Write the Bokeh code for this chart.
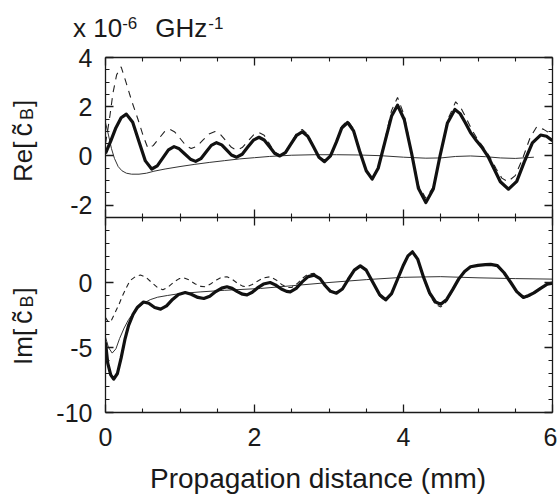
from bokeh.plotting import figure
from bokeh.models import LinearAxis, FixedTicker, Range1d, Div, CustomLabelingPolicy
from bokeh.layouts import column, row
from bokeh.embed import file_html
from bokeh.resources import INLINE

# ---------------- data ----------------
X_MAJOR = [0, 2, 4, 6]
X_TICK_LABELS = ["0", "2", "4", "6"]
X_MINOR = [0.5, 1, 1.5, 2.5, 3, 3.5, 4.5, 5, 5.5]
RE_MAJOR = [-2, 0, 2, 4]
RE_TICK_LABELS = ["-2", "0", "2", "4"]
RE_MINOR = [-2.5, -1.5, -1, -0.5, 0.5, 1, 1.5, 2.5, 3, 3.5]
IM_MAJOR = [-10, -5, 0]
IM_TICK_LABELS = ["-10", "-5", "0"]
IM_MINOR = [-9, -8, -7, -6, -4, -3, -2, -1, 1, 2, 3, 4]

RE_X_THICK = [0.00, 0.07, 0.14, 0.21, 0.28, 0.365, 0.45, 0.535, 0.62, 0.695, 0.77, 0.845, 0.92,
              0.99, 1.065, 1.14, 1.21, 1.28, 1.35, 1.42, 1.49, 1.56, 1.625, 1.69, 1.76, 1.835,
              1.91, 1.985, 2.06, 2.13, 2.20, 2.27, 2.34, 2.415, 2.49, 2.565, 2.64, 2.715, 2.79,
              2.865, 2.94, 3.02, 3.10, 3.17, 3.25, 3.33, 3.41, 3.50, 3.58, 3.66, 3.75, 3.84,
              3.92, 4.01, 4.11, 4.20, 4.30, 4.40, 4.49, 4.59, 4.69, 4.76, 4.83, 4.90, 4.98,
              5.06, 5.14, 5.22, 5.30, 5.41, 5.52, 5.62, 5.73, 5.84, 5.92, 6.00]
RE_Y_THICK = [0.10, 0.60, 1.15, 1.55, 1.70, 1.37, 0.58, -0.20, -0.53, -0.40, -0.08, 0.25, 0.38,
              0.29, 0.08, -0.13, -0.22, -0.11, 0.16, 0.43, 0.54, 0.45, 0.25, 0.04, -0.05, 0.07,
              0.36, 0.64, 0.76, 0.65, 0.38, 0.11, 0.00, 0.14, 0.49, 0.84, 0.98, 0.80, 0.38,
              -0.05, -0.23, 0.00, 0.57, 1.13, 1.36, 1.02, 0.21, -0.60, -0.94, -0.50, 0.56, 1.62,
              2.06, 1.48, 0.09, -1.31, -1.89, -1.34, 0.00, 1.34, 1.89, 1.72, 1.35, 0.95, 0.62,
              0.32, -0.05, -0.55, -1.05, -1.35, -1.03, -0.25, 0.53, 0.85, 0.80, 0.62]

RE_X_DASH = [0.00, 0.03, 0.06, 0.10, 0.15, 0.21, 0.28, 0.35, 0.44, 0.51, 0.57, 0.64, 0.715, 0.79,
             0.86, 0.93, 1.005, 1.08, 1.15, 1.23, 1.31, 1.39, 1.47, 1.54, 1.615, 1.69, 1.76,
             1.835, 1.91, 1.985, 2.06, 2.13, 2.20, 2.27, 2.34, 2.415, 2.49, 2.565, 2.64, 2.715,
             2.79, 2.865, 2.94, 3.02, 3.10, 3.17, 3.25, 3.33, 3.41, 3.50, 3.58, 3.66, 3.75,
             3.84, 3.92, 4.01, 4.11, 4.20, 4.30, 4.40, 4.49, 4.59, 4.70, 4.77, 4.84, 4.92,
             5.00, 5.08, 5.16, 5.24, 5.32, 5.40, 5.50, 5.60, 5.70, 5.79, 5.88, 5.95, 6.00]
RE_Y_DASH = [0.50, 1.05, 1.65, 2.55, 3.30, 3.62, 2.95, 2.25, 1.45, 0.78, 0.31, 0.42, 0.70, 0.98,
             1.09, 0.97, 0.70, 0.42, 0.30, 0.40, 0.65, 0.89, 0.99, 0.88, 0.62, 0.35, 0.24,
             0.34, 0.60, 0.85, 0.95, 0.84, 0.50, 0.15, 0.03, 0.17, 0.53, 0.92, 1.08, 0.88,
             0.42, -0.03, -0.20, 0.03, 0.62, 1.20, 1.45, 1.10, 0.25, -0.58, -0.93, -0.45, 0.64,
             1.85, 2.38, 1.65, 0.15, -1.20, -1.72, -1.25, 0.00, 1.45, 2.20, 1.95, 1.55, 1.05,
             0.65, 0.32, -0.05, -0.50, -0.90, -1.04, -0.80, -0.10, 0.75, 1.19, 1.08, 0.95, 0.92]

RE_X_THIN = [0.00, 0.04, 0.08, 0.12, 0.17, 0.22, 0.28, 0.35, 0.45, 0.55, 0.65, 0.80, 1.00, 1.20,
             1.40, 1.60, 1.80, 2.00, 2.20, 2.50, 2.80, 3.10, 3.40, 3.70, 4.00, 4.30, 4.50, 4.70,
             4.90, 5.10, 5.30, 5.50, 5.75]
RE_Y_THIN = [1.35, 0.85, 0.30, -0.10, -0.43, -0.60, -0.70, -0.74, -0.74, -0.70, -0.62, -0.53,
             -0.43, -0.34, -0.26, -0.19, -0.12, -0.07, -0.02, 0.03, 0.05, 0.05, 0.04, 0.01,
             -0.05, -0.09, -0.08, -0.02, 0.00, -0.03, -0.08, -0.10, -0.05]

IM_X_THICK = [0.00, 0.03, 0.07, 0.11, 0.16, 0.21, 0.26, 0.31, 0.37, 0.43, 0.51, 0.58, 0.66, 0.74,
              0.82, 0.90, 0.98, 1.07, 1.15, 1.24, 1.32, 1.40, 1.48, 1.56, 1.63, 1.70, 1.77,
              1.84, 1.90, 1.97, 2.04, 2.12, 2.21, 2.28, 2.36, 2.43, 2.48, 2.56, 2.64, 2.72,
              2.80, 2.88, 2.95, 3.02, 3.10, 3.18, 3.26, 3.34, 3.42, 3.50, 3.59, 3.68, 3.76,
              3.84, 3.92, 4.00, 4.06, 4.12, 4.19, 4.27, 4.35, 4.43, 4.50, 4.58, 4.66, 4.74,
              4.82, 4.90, 5.00, 5.10, 5.17, 5.26, 5.35, 5.44, 5.52, 5.61, 5.68, 5.75, 5.84,
              5.93, 6.00]
IM_Y_THICK = [-4.60, -6.20, -7.10, -7.43, -7.00, -5.80, -4.40, -3.30, -2.45, -1.90, -1.50, -1.60,
              -1.92, -2.05, -1.80, -1.30, -0.92, -0.77, -0.90, -1.15, -1.23, -1.05, -0.70,
              -0.43, -0.33, -0.45, -0.70, -0.90, -0.95, -0.75, -0.42, -0.12, 0.00, -0.18, -0.50,
              -0.68, -0.72, -0.45, 0.05, 0.45, 0.57, 0.30, -0.25, -0.68, -0.82, -0.50, 0.25,
              0.95, 1.28, 0.95, 0.00, -0.95, -1.33, -0.85, 0.25, 1.35, 2.05, 2.36, 1.80, 0.39,
              -0.80, -1.50, -1.67, -1.30, -0.55, 0.26, 0.85, 1.21, 1.32, 1.37, 1.39, 1.30, 0.75,
              0.00, -0.70, -1.15, -1.00, -0.80, -0.45, -0.13, -0.05]

IM_X_DASH = [0.00, 0.04, 0.08, 0.13, 0.18, 0.23, 0.28, 0.33, 0.40, 0.47, 0.54, 0.62, 0.70, 0.77,
             0.84, 0.92, 0.99, 1.05, 1.12, 1.20, 1.28, 1.34, 1.41, 1.49, 1.56, 1.63, 1.70,
             1.77, 1.84, 1.90, 1.97, 2.04, 2.12, 2.21, 2.29, 2.37, 2.45, 2.50, 2.57, 2.65,
             2.72, 2.80, 2.88, 2.95, 3.02, 3.10, 3.18, 3.26, 3.34, 3.42, 3.50, 3.59, 3.68,
             3.76, 3.84, 3.92, 4.00, 4.06, 4.12, 4.19, 4.27, 4.35, 4.43, 4.50, 4.58, 4.66,
             4.74, 4.82, 4.90, 5.00, 5.10, 5.17, 5.26, 5.35, 5.44, 5.52, 5.61, 5.68, 5.75,
             5.84, 5.93, 6.00]
IM_Y_DASH = [-2.70, -3.05, -2.90, -2.30, -1.70, -1.00, -0.40, 0.15, 0.45, 0.58, 0.42, 0.00,
             -0.40, -0.56, -0.35, 0.05, 0.30, 0.36, 0.20, -0.10, -0.30, -0.33, -0.12, 0.20,
             0.40, 0.44, 0.25, -0.05, -0.28, -0.33, -0.15, 0.10, 0.35, 0.44, 0.20, -0.18,
             -0.38, -0.38, -0.10, 0.35, 0.65, 0.70, 0.35, -0.22, -0.68, -0.85, -0.50, 0.25,
             0.95, 1.30, 0.95, -0.05, -1.05, -1.45, -0.92, 0.22, 1.35, 2.05, 2.36, 1.78, 0.30,
             -0.95, -1.70, -1.88, -1.45, -0.62, 0.22, 0.85, 1.21, 1.32, 1.37, 1.39, 1.28, 0.70,
             -0.05, -0.80, -1.22, -1.08, -0.85, -0.50, -0.15, -0.05]

IM_X_THIN = [0.00, 0.04, 0.09, 0.14, 0.19, 0.25, 0.31, 0.38, 0.45, 0.51, 0.60, 0.70, 0.83, 1.00,
             1.28, 1.60, 2.08, 2.50, 3.00, 3.50, 4.00, 4.50, 5.00, 5.50, 6.00]
IM_Y_THIN = [-4.20, -5.00, -5.43, -5.10, -4.30, -3.50, -2.85, -2.30, -1.90, -1.60, -1.32, -1.13,
             -1.00, -0.85, -0.72, -0.60, -0.46, -0.25, 0.00, 0.22, 0.40, 0.45, 0.36, 0.30, 0.26]

X_LABEL = "Propagation distance (mm)"
RE_LABEL = "Re["
IM_LABEL = "Im["

# ---------------- styling helpers ----------------
FONT = "Liberation Sans"
INK = "#1a1a1a"
HIDE_ALL = "for (const i of Array.from(indices)) { indices.unset(i) }\nreturn indices"
OVERLAP = 8  # extra canvas below the top frame, covered by the lower panel


def make_axis(major, minor, labels=None):
    ax = LinearAxis(ticker=FixedTicker(ticks=major, minor_ticks=minor))
    ax.major_tick_in = 8
    ax.major_tick_out = 0
    ax.minor_tick_in = 4
    ax.minor_tick_out = 0
    ax.axis_line_color = INK
    ax.axis_line_width = 1.3
    ax.major_tick_line_color = INK
    ax.major_tick_line_width = 1.3
    ax.minor_tick_line_color = INK
    ax.minor_tick_line_width = 1.1
    if labels is not None:
        ax.major_label_overrides = dict(zip(major, labels))
        ax.major_label_text_font = FONT
        ax.major_label_text_font_size = "25px"
        ax.major_label_text_color = INK
    else:
        ax.major_label_text_font_size = "0px"
        ax.major_label_standoff = 0
        ax.major_label_policy = CustomLabelingPolicy(code=HIDE_ALL)
    return ax


def make_fig(height, y_lo, y_hi, top, bottom):
    p = figure(width=509, height=height, x_range=Range1d(0, 6), y_range=Range1d(y_lo, y_hi),
               output_backend="svg", toolbar_location=None,
               x_axis_location=None, y_axis_location=None,
               min_border_left=57, min_border_right=5,
               min_border_top=top, min_border_bottom=bottom)
    p.grid.visible = False
    p.outline_line_color = None
    p.background_fill_color = "white"
    p.border_fill_color = "white"
    return p


BASE = f"font-family:'{FONT}';color:{INK};white-space:nowrap;"


def ylabel_div(head, top, height):
    html = (
        f'<div style="position:relative;width:48px;height:{height}px;">'
        f'<div style="position:absolute;left:10.3px;top:{top}px;transform-origin:0 0;'
        f'transform:rotate(-90deg);font-size:26px;line-height:26px;{BASE}">'
        f'{head}<span style="font-size:27px;margin-left:5px;margin-right:3px">c&#771;</span>'
        f'<span style="font-size:18px;vertical-align:-1px">B</span>'
        f'<span style="margin-left:1px">]</span></div></div>'
    )
    return Div(text=html, width=48, height=height, margin=0)


# ---------------- unit text above the top panel ----------------
title_html = (
    f'<div style="position:relative;width:557px;height:40px;">'
    f'<div style="position:absolute;left:73px;top:11px;font-size:26px;line-height:26px;{BASE}">'
    f'x 10<span style="font-size:17px;vertical-align:8px">-6</span>'
    f'<span style="margin-left:18px">GHz</span>'
    f'<span style="font-size:17px;vertical-align:8px;margin-left:1px">-1</span></div></div>'
)
title_div = Div(text=title_html, width=557, height=40, margin=0)

# ---------------- top panel: Re ----------------
p1 = make_fig(177 + OVERLAP, -2.5, 4, 17, OVERLAP)
ax = make_axis(RE_MAJOR, RE_MINOR, RE_TICK_LABELS)
ax.major_label_standoff = 13
p1.add_layout(ax, "left")
p1.add_layout(make_axis(RE_MAJOR, RE_MINOR), "right")
p1.add_layout(make_axis(X_MAJOR, X_MINOR), "below")
p1.add_layout(make_axis(X_MAJOR, X_MINOR), "above")

p1.line(RE_X_THIN, RE_Y_THIN, line_color="#333333", line_width=1.0)
p1.line(RE_X_DASH, RE_Y_DASH, line_color="#222222", line_width=1.1, line_dash="7 6")
p1.line(RE_X_THICK, RE_Y_THICK, line_color="#111111", line_width=3.2, line_join="round")

# ---------------- bottom panel: Im ----------------
p2 = make_fig(240, -10, 5, 0, 45)
ax = make_axis(IM_MAJOR, IM_MINOR, IM_TICK_LABELS)
ax.major_label_standoff = 13
p2.add_layout(ax, "left")
p2.add_layout(make_axis(IM_MAJOR, IM_MINOR), "right")
ax = make_axis(X_MAJOR, X_MINOR, X_TICK_LABELS)
ax.major_label_standoff = 15
p2.add_layout(ax, "below")
p2.add_layout(make_axis(X_MAJOR, X_MINOR), "above")

p2.line(IM_X_THIN, IM_Y_THIN, line_color="#333333", line_width=1.0)
p2.line(IM_X_DASH, IM_Y_DASH, line_color="#222222", line_width=1.1, line_dash="5 4")
p2.line(IM_X_THICK, IM_Y_THICK, line_color="#111111", line_width=3.2, line_join="round")

# ---------------- x label ----------------
xlabel_html = (
    f'<div style="position:relative;width:557px;height:40px;">'
    f'<div style="position:absolute;left:150px;top:8px;font-size:28px;line-height:28px;{BASE}">'
    f'{X_LABEL}</div></div>'
)
xlabel_div = Div(text=xlabel_html, width=557, height=40, margin=0)

top_row = row(ylabel_div(RE_LABEL, 142, 177 + OVERLAP), p1, spacing=0,
              margin=(0, 0, -OVERLAP, 0))
bottom_row = row(ylabel_div(IM_LABEL, 148, 240), p2, spacing=0, margin=0)

layout = column(title_div, top_row, bottom_row, xlabel_div, spacing=0)
open("out.html", "w").write(file_html(layout, INLINE))
